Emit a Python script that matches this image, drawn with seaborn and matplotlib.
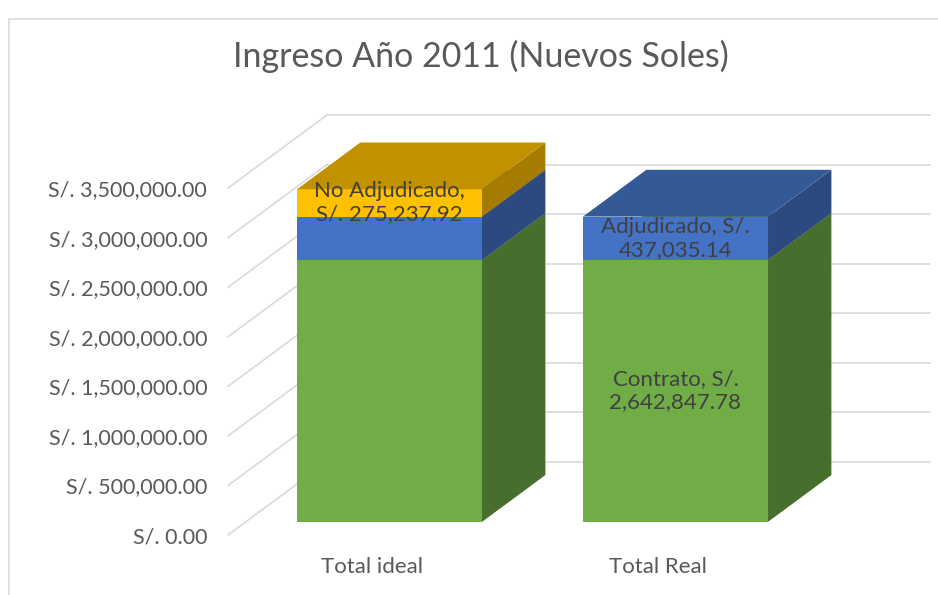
import textwrap
import numpy as np
import pandas as pd
import matplotlib
matplotlib.use("Agg")
import matplotlib.pyplot as plt
from matplotlib.patches import Polygon, Rectangle
import seaborn as sns

# data
categories = ["Total ideal", "Total Real"]
series_names = ["Contrato", "Adjudicado", "No Adjudicado"]
contrato = [2642847.78, 2642847.78]
adjudicado = [437035.14, 437035.14]
no_adjudicado = [275237.92, 0.0]
show_label = [[False, True], [False, True], [True, False]]
y_ticks = [0, 500000, 1000000, 1500000, 2000000, 2500000, 3000000, 3500000]

front_colors = ["#70AD47", "#4472C4", "#FFC000"]
side_colors = ["#476E2C", "#2C4A80", "#A67C00"]
top_colors = ["#5A8C38", "#335A97", "#C29100"]

sns.set_style("white")
plt.rcParams["font.family"] = ["Lato", "DejaVu Sans"]

W, H = 938, 595
fig = plt.figure(figsize=(W / 100, H / 100), dpi=100)

# axes box = front-left corner of the wall to the back-right end of the back wall
ax = fig.add_axes([228 / W, (H - 535) / H, (930 - 228) / W, (535 - 115) / H])

# oblique depth vector (data units) and where the bars sit in depth
DX, DY = 0.3462, 737374.0
f_front, f_back = 0.18, 0.82
bar_w = 0.647
x_left, x_right = -0.5024, 1.606

layers = [contrato, adjudicado, no_adjudicado]
bottoms = np.zeros(len(categories))
for lvl, (name, vals) in enumerate(zip(series_names, layers)):
    df = pd.DataFrame({"cat": categories, "val": vals})
    n_before = len(ax.patches)
    sns.barplot(data=df, x="cat", y="val", bottom=bottoms.copy(), color=front_colors[lvl],
                width=bar_w, saturation=1, zorder=3 + lvl, linewidth=0, ax=ax)
    new = ax.patches[n_before:]
    for i, p in enumerate(new):
        h = p.get_height()
        if h <= 0:
            p.set_visible(False)
            continue
        x0 = p.get_x() + f_front * DX
        y0 = p.get_y() + f_front * DY
        p.set_x(x0)
        p.set_y(y0)
        w = p.get_width()
        d = f_back - f_front
        side = [(x0 + w, y0), (x0 + w + d * DX, y0 + d * DY),
                (x0 + w + d * DX, y0 + h + d * DY), (x0 + w, y0 + h)]
        top = [(x0, y0 + h), (x0 + w, y0 + h),
               (x0 + w + d * DX, y0 + h + d * DY), (x0 + d * DX, y0 + h + d * DY)]
        ax.add_patch(Polygon(side, closed=True, facecolor=side_colors[lvl], lw=0, zorder=3 + lvl))
        ax.add_patch(Polygon(top, closed=True, facecolor=top_colors[lvl], lw=0, zorder=3 + lvl))
        if show_label[lvl][i]:
            txt = textwrap.fill(f"{name}, S/. {vals[i]:,.2f}", width=15)
            ax.text(x0 + w / 2, y0 + h / 2, txt, ha="center", va="center",
                    fontsize=16, color="#404040", zorder=10, linespacing=1.2)
    bottoms = bottoms + np.array(vals)

# walls: gridlines on the side wall and the back wall
for v in y_ticks:
    ax.plot([x_left, x_left + DX], [v, v + DY], color="#D9D9D9", lw=1.2, zorder=1, clip_on=False)
    ax.plot([x_left + DX, x_right + DX], [v + DY, v + DY], color="#D9D9D9", lw=1.2, zorder=1,
            clip_on=False)

ax.set_xlim(x_left, x_right + DX)
ax.set_ylim(0, 3500000 + DY)
ax.set_yticks(y_ticks)
ax.set_yticklabels([f"S/. {v:,.2f}" for v in y_ticks])
ax.set_xticks(range(len(categories)))
ax.set_xticklabels(categories)
ax.tick_params(axis="y", length=0, pad=15, labelsize=15.5, labelcolor="#595959")
ax.tick_params(axis="x", length=0, pad=16, labelsize=16, labelcolor="#595959")
ax.set_xlabel("")
ax.set_ylabel("")
for s in ax.spines.values():
    s.set_visible(False)
ax.patch.set_alpha(0)

fig.patches.append(Rectangle((9 / W, -0.1), 1.2, 1.1 - 19 / H, transform=fig.transFigure,
                             fill=False, edgecolor="#D9D9D9", lw=1.2))
fig.text(481 / W, 1 - 56 / H, "Ingreso Año 2011 (Nuevos Soles)", ha="center", va="center",
         fontsize=24.5, color="#595959")

fig.savefig("out.png", dpi=100)
